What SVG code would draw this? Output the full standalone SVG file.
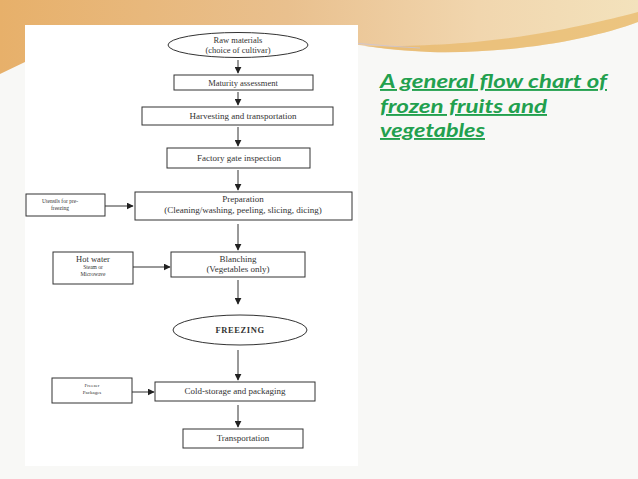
<svg xmlns="http://www.w3.org/2000/svg" width="638" height="479" viewBox="0 0 638 479">
<defs>
<linearGradient id="sw" x1="0" y1="0" x2="1" y2="0">
<stop offset="0" stop-color="#e7b06a"/>
<stop offset="0.45" stop-color="#e9c08e"/>
<stop offset="0.75" stop-color="#f1d6ae"/>
<stop offset="1" stop-color="#f3e2bc"/>
</linearGradient>
<marker id="ah" viewBox="0 0 10 10" refX="9" refY="5" markerWidth="7" markerHeight="7" markerUnits="userSpaceOnUse" orient="auto">
<path d="M0,0 L10,5 L0,10 Z" fill="#222"/>
</marker>
<style>
.box{fill:#fff;stroke:#333;stroke-width:1}
.t{font-family:"Liberation Serif","Times New Roman",serif;fill:#333;text-anchor:middle}
.c{stroke:#333;stroke-width:1;fill:none;marker-end:url(#ah)}
.ttl{font-family:Lato,"Open Sans",sans-serif;font-style:italic;font-weight:bold;font-size:19px;fill:#22a04e;text-decoration:underline}
</style>
</defs>
<rect width="638" height="479" fill="#f8f8f6"/>
<path d="M0,0 H638 V22 C590,40 510,54 430,52 C370,49 330,40 290,34 L25,28 L25,62 L0,74 Z" fill="url(#sw)"/>
<path d="M638,22 C590,40 510,54 430,52 C405,51 385,49 365,46 C400,47 470,45 530,35 C580,27 615,18 638,12 Z" fill="#e8b866" opacity="0.7"/>
<path d="M300,37 C340,42 380,46 420,48" stroke="#c9c4d8" stroke-width="0.8" fill="none"/>
<rect x="25" y="25" width="333" height="441" fill="#ffffff"/>

<g id="connectors">
<line class="c" x1="238" y1="60" x2="238" y2="73"/>
<line class="c" x1="238" y1="92" x2="238" y2="105"/>
<line class="c" x1="238" y1="127" x2="238" y2="146"/>
<line class="c" x1="238" y1="170" x2="238" y2="190"/>
<line class="c" x1="105" y1="206" x2="133" y2="206"/>
<line class="c" x1="238" y1="224" x2="238" y2="250"/>
<line class="c" x1="133" y1="267" x2="170" y2="267"/>
<line class="c" x1="238" y1="280" x2="238" y2="304"/>
<line class="c" x1="238" y1="350" x2="238" y2="380"/>
<line class="c" x1="132" y1="392" x2="154" y2="392"/>
<line class="c" x1="238" y1="405" x2="238" y2="427"/>
</g>

<g id="raw">
<ellipse class="box" cx="238" cy="45" rx="70" ry="12.5"/>
<text class="t" x="238" y="43" font-size="8.5">Raw materials</text>
<text class="t" x="238" y="53" font-size="8.5">(choice of cultivar)</text>
</g>
<g id="maturity">
<rect class="box" x="174" y="75" width="139" height="15"/>
<text class="t" x="243" y="86" font-size="8.5">Maturity assessment</text>
</g>
<g id="harvesting">
<rect class="box" x="142" y="107" width="191" height="18"/>
<text class="t" x="243" y="119" font-size="9">Harvesting and transportation</text>
</g>
<g id="factory">
<rect class="box" x="167" y="148" width="143" height="20"/>
<text class="t" x="239" y="161" font-size="9">Factory gate inspection</text>
</g>
<g id="utensils">
<rect class="box" x="26" y="194" width="79" height="22"/>
<text class="t" x="60" y="203" font-size="5.5">Utensils for pre-</text>
<text class="t" x="60" y="210" font-size="5.5">freezing</text>
</g>
<g id="preparation">
<rect class="box" x="135" y="192" width="217" height="28"/>
<text class="t" x="243" y="202" font-size="9">Preparation</text>
<text class="t" x="243" y="213" font-size="9">(Cleaning/washing, peeling, slicing, dicing)</text>
</g>
<g id="hotwater">
<rect class="box" x="53" y="252" width="80" height="32"/>
<text class="t" x="93" y="262" font-size="8.5">Hot water</text>
<text class="t" x="93" y="269" font-size="5.5">Steam or</text>
<text class="t" x="93" y="276" font-size="5.5">Microwave</text>
</g>
<g id="blanching">
<rect class="box" x="171" y="252" width="134" height="25"/>
<text class="t" x="238" y="262" font-size="9">Blanching</text>
<text class="t" x="238" y="272" font-size="9">(Vegetables only)</text>
</g>
<g id="freezing">
<ellipse class="box" cx="240" cy="330" rx="67" ry="15"/>
<text class="t" x="240" y="333" font-size="8.5" font-weight="bold" letter-spacing="0.6">FREEZING</text>
</g>
<g id="freezerpackages">
<rect class="box" x="52" y="378" width="80" height="25"/>
<text class="t" x="92" y="387" font-size="5">Freezer</text>
<text class="t" x="92" y="394" font-size="5">Packages</text>
</g>
<g id="coldstorage">
<rect class="box" x="155" y="382" width="160" height="19"/>
<text class="t" x="235" y="394" font-size="9">Cold-storage and packaging</text>
</g>
<g id="transportation">
<rect class="box" x="183" y="429" width="120" height="19"/>
<text class="t" x="243" y="441" font-size="9">Transportation</text>
</g>

<g id="title">
<text class="ttl" x="380" y="88" textLength="227" lengthAdjust="spacingAndGlyphs">A general flow chart of</text>
<text class="ttl" x="380" y="113" textLength="167" lengthAdjust="spacingAndGlyphs">frozen fruits and</text>
<text class="ttl" x="380" y="137" textLength="105" lengthAdjust="spacingAndGlyphs">vegetables</text>
</g>
</svg>
